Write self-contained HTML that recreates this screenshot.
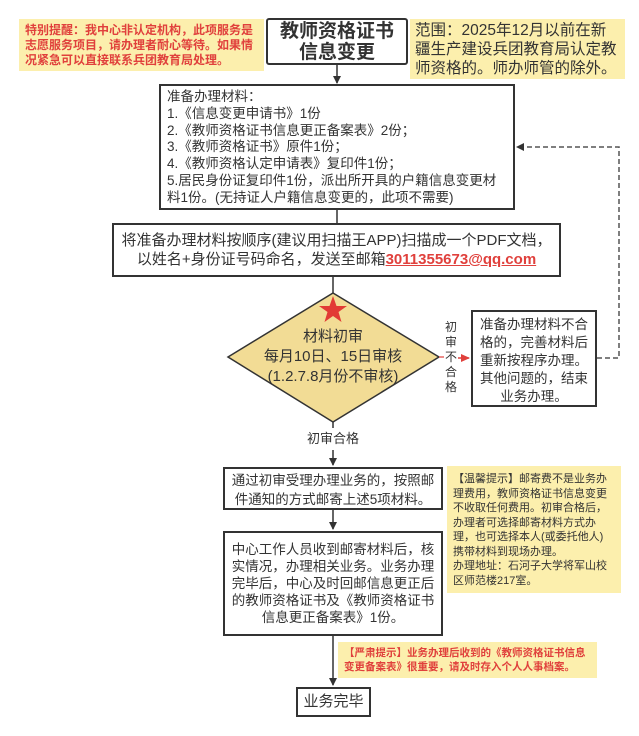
<!DOCTYPE html>
<html><head><meta charset="utf-8"><style>
body{margin:0;width:639px;height:736px;background:#fff;position:relative;overflow:hidden;font-family:"Liberation Sans","Noto Sans CJK SC",sans-serif;color:#333}
.a{position:absolute;box-sizing:border-box}
.box{border:2px solid #333;background:#fff}
.note{background:#fcefad}
.c{text-align:center}
.n{white-space:nowrap}
</style></head><body>
<svg class="a" style="left:0;top:0" width="639" height="736">
<defs><marker id="ar" markerWidth="8" markerHeight="8" refX="7" refY="4" orient="auto" markerUnits="userSpaceOnUse"><path d="M0,0 L8,4 L0,8 Z" fill="#333"/></marker>
<marker id="rr" markerWidth="9" markerHeight="8" refX="8" refY="4" orient="auto" markerUnits="userSpaceOnUse"><path d="M0,0 L9,4 L0,8 Z" fill="#e0403c"/></marker></defs>
<line x1="337" y1="65" x2="337" y2="83" stroke="#333" stroke-width="1.5" marker-end="url(#ar)"/>
<line x1="337" y1="210" x2="337" y2="223" stroke="#333" stroke-width="1.5"/>
<line x1="333" y1="277" x2="333" y2="300" stroke="#333" stroke-width="1.5"/>
<polygon points="333,293 439,357 333,422 228,357" fill="#f2dc95" stroke="#333" stroke-width="1.5"/>
<polygon points="333,296 336.5,306 347,306 338.5,312 341.5,322 333,316 324.5,322 327.5,312 319,306 329.5,306" fill="#e23b35"/>
<line x1="439" y1="357" x2="446" y2="357" stroke="#e0403c" stroke-width="1.2"/>
<line x1="456" y1="358" x2="469" y2="358" stroke="#e0403c" stroke-width="1.5" marker-end="url(#rr)"/>
<polyline points="597,358 619,358 619,147 517,147" fill="none" stroke="#555" stroke-width="1.5" stroke-dasharray="5,3" marker-end="url(#ar)"/>
<line x1="333" y1="422" x2="333" y2="428" stroke="#333" stroke-width="1.5"/>
<line x1="333" y1="450" x2="333" y2="465" stroke="#333" stroke-width="1.5" marker-end="url(#ar)"/>
<line x1="333" y1="510" x2="333" y2="529" stroke="#333" stroke-width="1.5" marker-end="url(#ar)"/>
<line x1="333" y1="636" x2="333" y2="685" stroke="#333" stroke-width="1.5" marker-end="url(#ar)"/>
</svg>
<div class="a note n" style="left:19px;top:19px;width:245px;height:52px;padding:4px 6px;color:#e0403c;font-weight:bold;font-size:12px;line-height:15px">特别提醒：我中心非认定机构，此项服务是<br>志愿服务项目，请办理者耐心等待。如果情<br>况紧急可以直接联系兵团教育局处理。</div>
<div class="a box c" style="left:266px;top:18px;width:142px;height:47px;font-size:19px;font-weight:bold;line-height:21px;padding-top:1px;border-radius:3px">教师资格证书<br>信息变更</div>
<div class="a note n" style="left:410px;top:19px;width:215px;height:60px;padding:2px 5px;font-size:15.5px;line-height:19px">范围：2025年12月以前在新<br>疆生产建设兵团教育局认定教<br>师资格的。师办师管的除外。</div>
<div class="a box n" style="left:159px;top:84px;width:356px;height:126px;padding:3px 6px;font-size:13.5px;line-height:16.8px">准备办理材料：<br>1.《信息变更申请书》1份<br>2.《教师资格证书信息更正备案表》2份；<br>3.《教师资格证书》原件1份；<br>4.《教师资格认定申请表》复印件1份；<br>5.居民身份证复印件1份，派出所开具的户籍信息变更材<br>料1份。(无持证人户籍信息变更的，此项不需要)</div>
<div class="a box c n" style="left:112px;top:223px;width:449px;height:54px;padding-top:6px;font-size:15px;line-height:19px">将准备办理材料按顺序(建议用扫描王APP)扫描成一个PDF文档，<br>以姓名+身份证号码命名，发送至邮箱<span style="color:#e0403c;font-weight:bold;text-decoration:underline">3011355673@qq.com</span></div>
<div class="a c n" style="left:248px;top:327px;width:170px;font-size:15px;line-height:20px">材料初审<br>每月10日、15日审核<br>(1.2.7.8月份不审核)</div>
<div class="a c" style="left:444px;top:320px;width:14px;font-size:12px;line-height:15px;background:#fff">初<br>审<br>不<br>合<br>格</div>
<div class="a box c n" style="left:471px;top:310px;width:126px;height:97px;padding-top:4px;font-size:13.5px;line-height:18px">准备办理材料不合<br>格的，完善材料后<br>重新按程序办理。<br>其他问题的，结束<br>业务办理。</div>
<div class="a c" style="left:293px;top:430px;width:80px;font-size:13px;line-height:18px">初审合格</div>
<div class="a box c n" style="left:223px;top:467px;width:220px;height:43px;padding:2px 0;font-size:13.5px;line-height:19px">通过初审受理办理业务的，按照邮<br>件通知的方式邮寄上述5项材料。</div>
<div class="a box c n" style="left:223px;top:531px;width:220px;height:105px;padding:8px 0;font-size:13.5px;line-height:17px">中心工作人员收到邮寄材料后，核<br>实情况，办理相关业务。业务办理<br>完毕后，中心及时回邮信息更正后<br>的教师资格证书及《教师资格证书<br>信息更正备案表》1份。</div>
<div class="a note n" style="left:447px;top:466px;width:174px;height:127px;padding:6px 6px;font-size:11px;line-height:14.5px">【温馨提示】邮寄费不是业务办<br>理费用，教师资格证书信息变更<br>不收取任何费用。初审合格后，<br>办理者可选择邮寄材料方式办<br>理，也可选择本人(或委托他人)<br>携带材料到现场办理。<br>办理地址：石河子大学将军山校<br>区师范楼217室。</div>
<div class="a note n" style="left:338px;top:642px;width:259px;height:36px;padding:4px 6px;color:#e0403c;font-weight:bold;font-size:10.5px;line-height:14px">【严肃提示】业务办理后收到的《教师资格证书信息<br>变更备案表》很重要，请及时存入个人人事档案。</div>
<div class="a box c" style="left:296px;top:687px;width:75px;height:30px;font-size:15px;line-height:26px">业务完毕</div>
</body></html>
